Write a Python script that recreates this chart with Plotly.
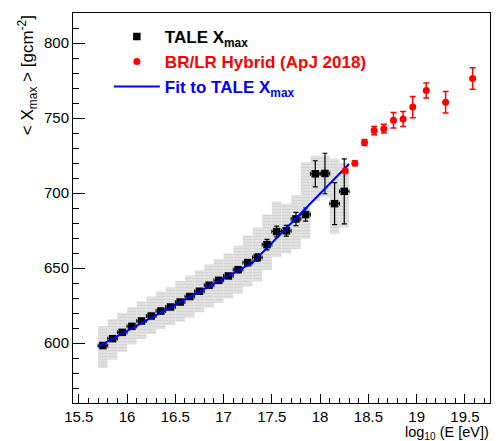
import plotly.graph_objects as go

# TALE Xmax measurements (log10 E bin centres, mean Xmax, stat. and sys. errors)
tale_logE = [15.75, 15.85, 15.95, 16.05, 16.15, 16.25, 16.35, 16.45, 16.55, 16.65,
             16.75, 16.85, 16.95, 17.05, 17.15, 17.25, 17.35, 17.45, 17.55, 17.65,
             17.75, 17.85, 17.95, 18.05, 18.15, 18.25]
tale_xmax = [598.3, 602.9, 607.1, 611.1, 614.7, 618.0, 621.3, 624.0, 627.3, 631.0,
             634.5, 638.5, 641.8, 644.7, 648.9, 653.6, 657.0, 665.6, 674.3, 674.8,
             682.7, 685.6, 712.8, 713.0, 692.9, 701.1]
tale_stat = [1.5, 1.5, 1.5, 1.5, 1.5, 1.5, 1.5, 1.5, 1.5, 1.5,
             1.5, 1.5, 1.5, 1.5, 2.0, 2.0, 2.5, 3.5, 3.6, 3.6,
             4.4, 4.4, 8.7, 13.5, 14.0, 21.7]
tale_bin_half = [0.05] * 26
tale_sys_up = [13, 13, 13, 13, 13, 13, 13, 13, 14, 14,
               14, 14, 14, 15, 16, 18, 20, 20, 20, 18,
               16, 35, 12, 12, 30, 19]
tale_sys_dn = [15, 14, 13, 12, 12, 12, 12, 12, 13, 14,
               14, 15, 15, 15, 16, 16, 16, 17, 17, 15,
               20, 16, 18, 16, 20, 24]
tale_bin_width = [0.1] * 26

# BR/LR hybrid Xmax (ApJ 2018)
brlr_logE = [18.26, 18.36, 18.46, 18.56, 18.66, 18.76, 18.86, 18.96, 19.10, 19.30, 19.58]
brlr_xmax = [714.7, 719.8, 733.6, 741.6, 742.9, 748.5, 749.3, 757.3, 768.3, 760.5, 776.3]
brlr_err = [1.2, 1.5, 2.0, 2.7, 2.9, 5.1, 5.0, 7.1, 5.0, 7.1, 7.2]

# Broken-line fit to the TALE points
fit_logE = [15.70, 17.30, 18.30]
fit_xmax = [597.6, 653.5, 719.3]

FONT = "Liberation Sans, Arial, Helvetica, sans-serif"

sys_low = [m - d for m, d in zip(tale_xmax, tale_sys_dn)]
sys_height = [u + d for u, d in zip(tale_sys_up, tale_sys_dn)]

fig = go.Figure()

# systematic-uncertainty boxes (light hatched grey)
fig.add_trace(go.Bar(
    x=tale_logE, y=sys_height, base=sys_low, width=tale_bin_width,
    marker=dict(color="#dcdcdc", line=dict(width=0),
                pattern=dict(shape="-", fgcolor="#c8c8c8", bgcolor="#e2e2e2",
                             size=3, solidity=0.4)),
    showlegend=False, hoverinfo="skip",
))

fig.add_trace(go.Scatter(
    x=tale_logE, y=tale_xmax, mode="markers",
    name="<span style='color:black'>TALE X<sub>max</sub></span>",
    marker=dict(symbol="square", size=7.5, color="black"),
    error_y=dict(type="data", array=tale_stat, color="black", thickness=1.2, width=2.5),
    error_x=dict(type="data", array=tale_bin_half, color="black", thickness=1, width=2),
    legendrank=1,
))

fig.add_trace(go.Scatter(
    x=fit_logE, y=fit_xmax, mode="lines",
    name="<span style='color:blue'>Fit to TALE X<sub>max</sub></span>",
    line=dict(color="#0000ff", width=2),
    legendrank=3,
))

fig.add_trace(go.Scatter(
    x=brlr_logE, y=brlr_xmax, mode="markers",
    name="<span style='color:red'>BR/LR Hybrid (ApJ 2018)</span>",
    marker=dict(symbol="circle", size=7, color="#ff0000"),
    error_y=dict(type="data", array=brlr_err, color="#ff0000", thickness=1.5, width=3),
    legendrank=2,
))

axis_common = dict(
    showline=True, linecolor="black", linewidth=1, mirror=True,
    showgrid=False, zeroline=False,
    ticks="inside", tickcolor="black", tickwidth=1,
    tickfont=dict(family=FONT, size=15, color="black"),
)

fig.update_xaxes(
    range=[15.44, 19.76], tick0=15.5, dtick=0.5, ticklen=9,
    minor=dict(ticks="inside", dtick=0.1, ticklen=5, tickcolor="black", tickwidth=1),
    **axis_common,
)
fig.update_yaxes(
    range=[560, 820], tick0=600, dtick=50, ticklen=12,
    minor=dict(ticks="inside", dtick=10, ticklen=6, tickcolor="black", tickwidth=1),
    **axis_common,
)

fig.add_annotation(
    text="&lt; X<sub>max</sub> &gt; [gcm<sup>-2</sup>]",
    xref="paper", yref="paper", x=-0.11, y=1.0, xanchor="center", yanchor="top",
    textangle=-90, showarrow=False,
    font=dict(family=FONT, size=17, color="black"),
)
fig.add_annotation(
    text="log<sub>10</sub> (E [eV])",
    xref="paper", yref="paper", x=1.0, y=-0.052, xanchor="right", yanchor="top",
    showarrow=False, borderpad=0,
    font=dict(family=FONT, size=14.5, color="black"),
)

fig.update_layout(
    width=496, height=441,
    margin=dict(l=73, r=6, t=13, b=38),
    paper_bgcolor="white", plot_bgcolor="white",
    barmode="overlay",
    legend=dict(
        x=0.086, y=0.985, xanchor="left", yanchor="top",
        bgcolor="rgba(0,0,0,0)", borderwidth=0,
        itemwidth=46, tracegroupgap=0,
        font=dict(family=FONT, size=17, color="black", weight="bold"),
    ),
)

fig.write_html("out.html")
